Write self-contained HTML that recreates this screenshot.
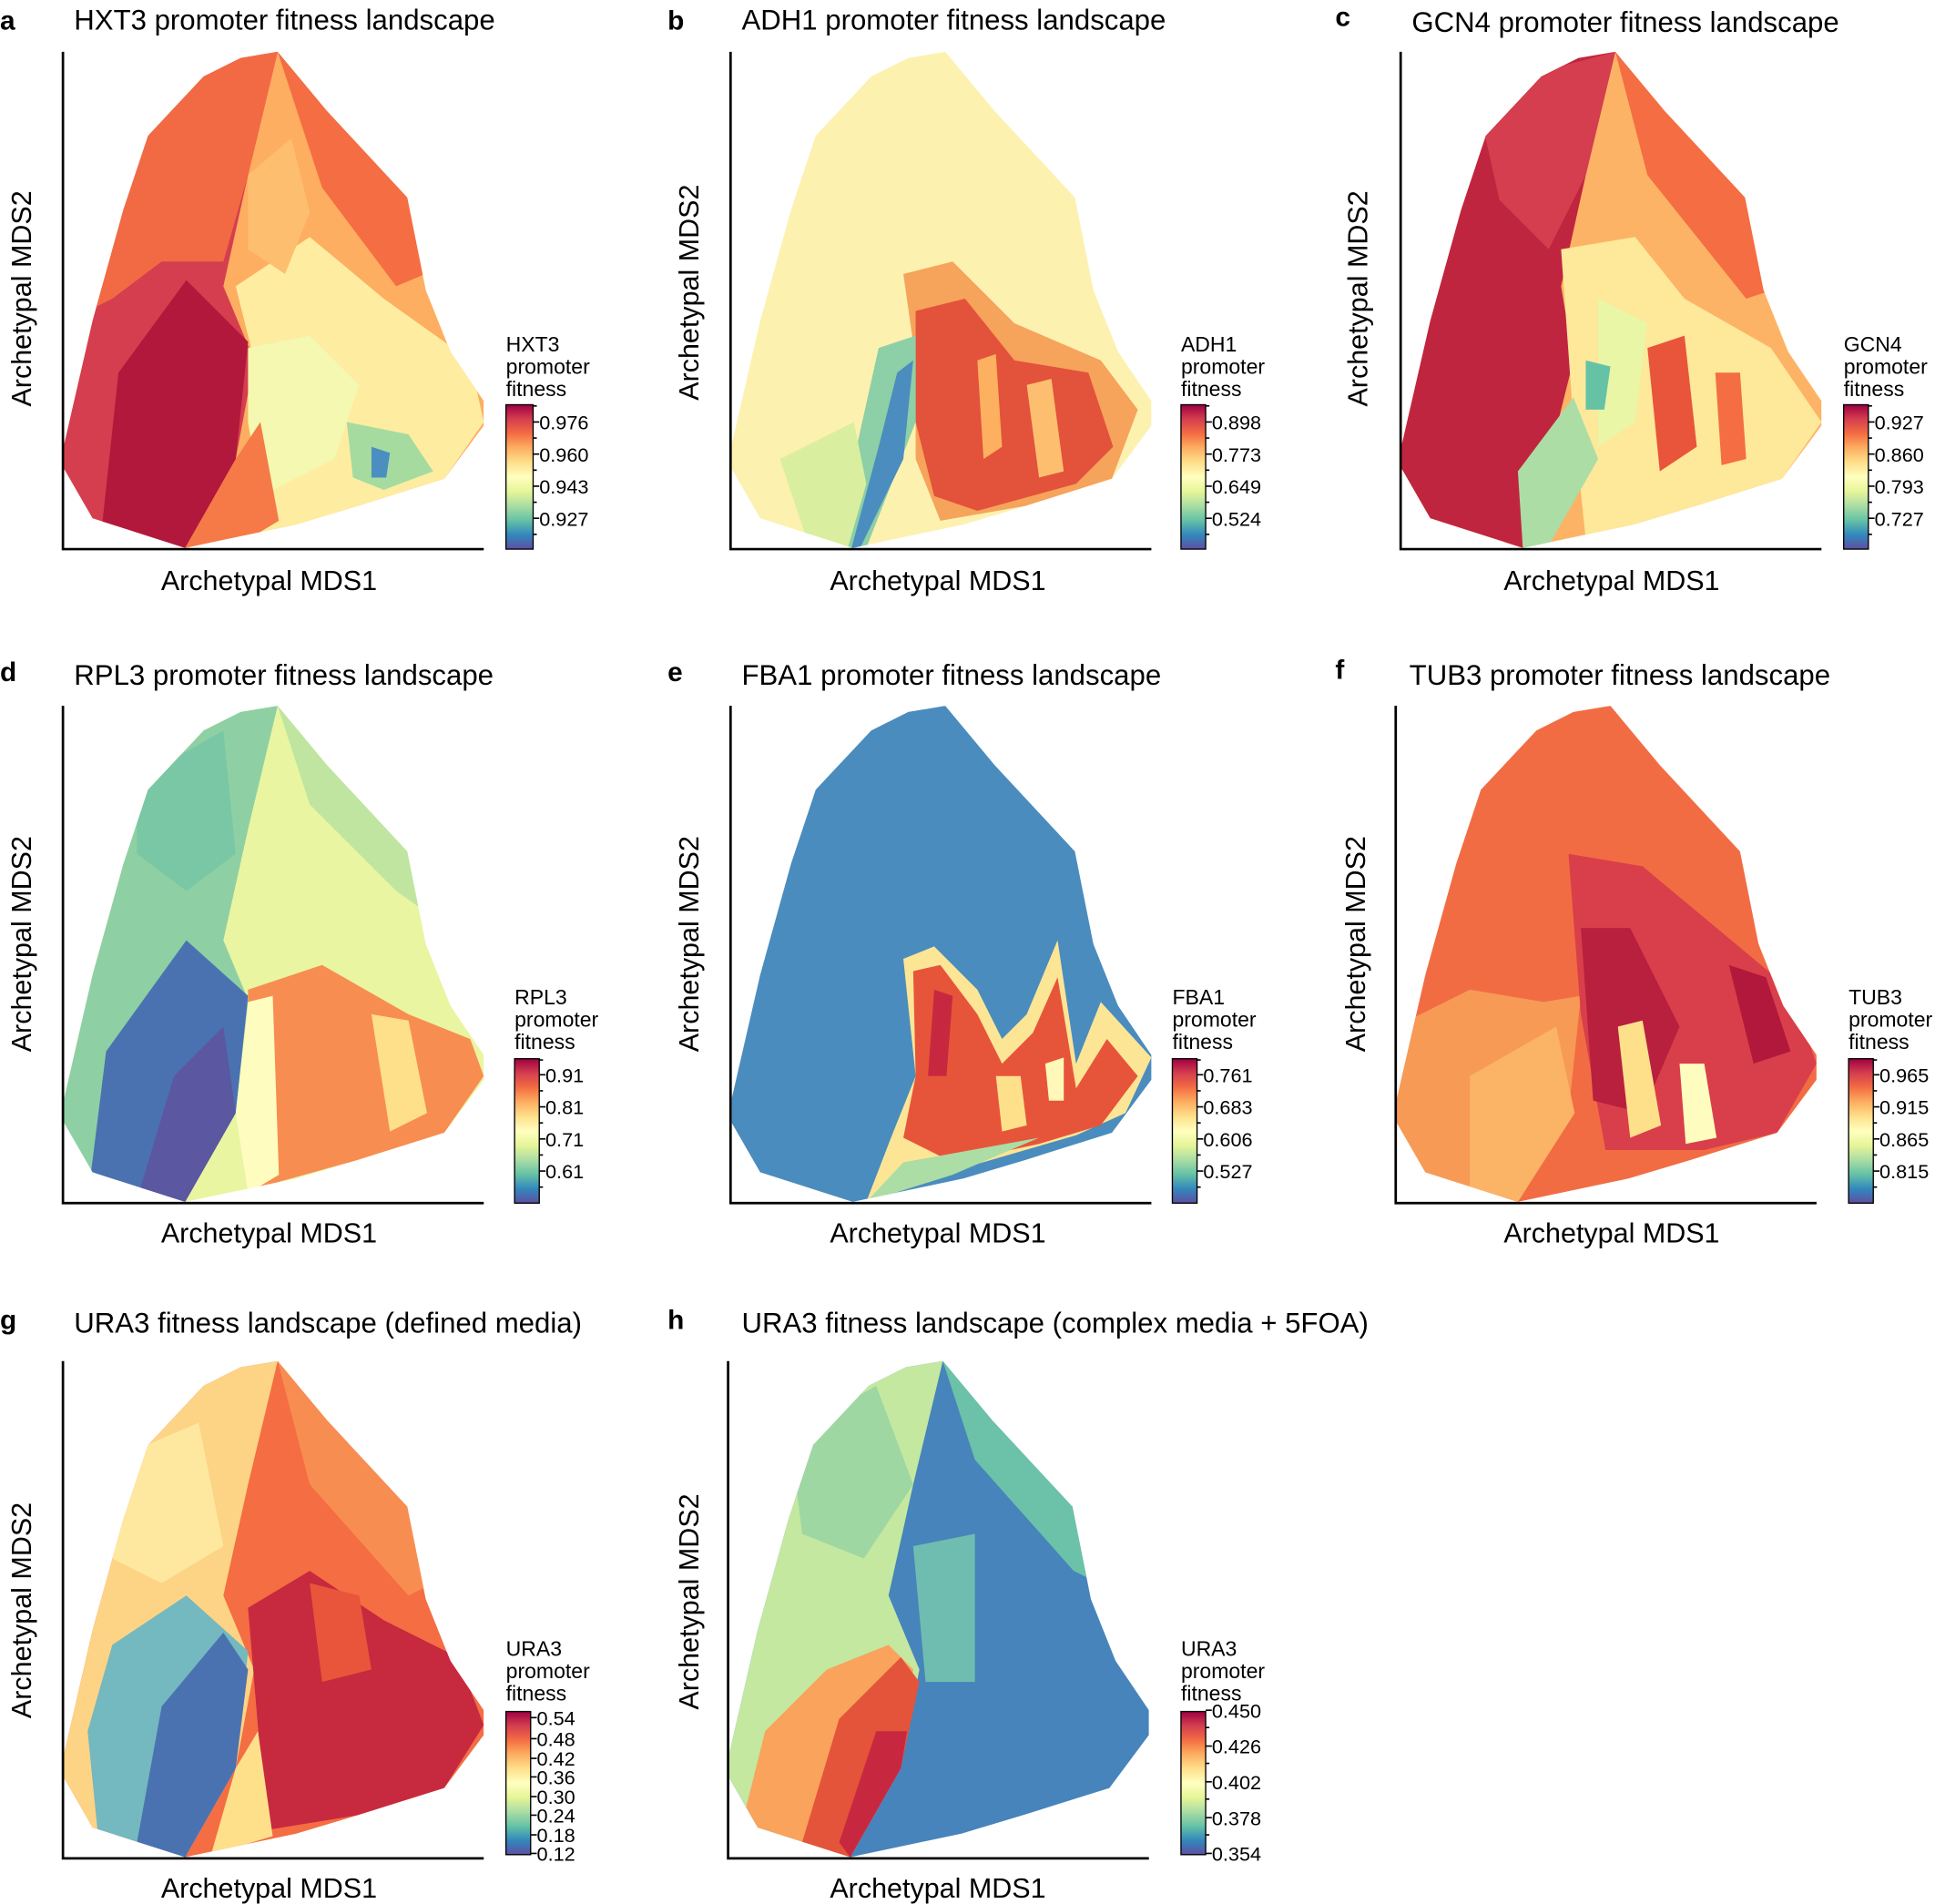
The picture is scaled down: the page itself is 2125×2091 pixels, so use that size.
<!DOCTYPE html>
<html><head><meta charset="utf-8"><style>
html,body{margin:0;padding:0;background:#fff;}
svg{display:block;}
text{font-family:"Liberation Sans",Arial,sans-serif;fill:#000;}
.t{font-size:23px}.ax{font-size:22.5px}.cb{font-size:17px}.tk{font-size:16px}.lt{font-size:22px;font-weight:bold}
</style></head><body>
<svg width="2125" height="2091" viewBox="0 0 1568 1543" preserveAspectRatio="none" xmlns="http://www.w3.org/2000/svg">
<defs>
<clipPath id="hull" clipPathUnits="userSpaceOnUse">
<polygon points="1,318 24,218 49,128 69,68 114,20 144,5 174,0 214,48 279,118 294,193 314,243 341,283 341,303 309,346 239,368 189,383 99,402 24,378 1,338"/>
</clipPath>
<linearGradient id="spec" x1="0" y1="0" x2="0" y2="1">
<stop offset="0" stop-color="#9e0142"/><stop offset="0.1" stop-color="#d53e4f"/><stop offset="0.2" stop-color="#f46d43"/><stop offset="0.3" stop-color="#fdae61"/><stop offset="0.4" stop-color="#fee08b"/><stop offset="0.5" stop-color="#ffffbf"/><stop offset="0.6" stop-color="#e6f598"/><stop offset="0.7" stop-color="#abdda4"/><stop offset="0.8" stop-color="#66c2a5"/><stop offset="0.9" stop-color="#3288bd"/><stop offset="1" stop-color="#5e4fa2"/>
</linearGradient>
<g id="axes"><path d="M0,0 V403 H341" fill="none" stroke="#000" stroke-width="2"/></g>
</defs>

<!-- ===== Panel a ===== -->
<g transform="translate(51,42)">
<g clip-path="url(#hull)">
<rect x="0" y="0" width="342" height="403" fill="#fdae61"/>
<polygon points="174,0 341,0 341,160 270,190 210,110" fill="#f46d43"/>
<polygon points="0,0 174,0 150,100 130,190 155,250 140,330 99,402 0,402" fill="#d53e4f"/>
<polygon points="0,0 174,0 150,100 130,170 80,170 40,200 0,220" fill="#f16a44"/>
<polygon points="30,400 45,260 100,185 150,235 140,330 99,402" fill="#b2183b"/>
<polygon points="140,190 200,150 260,200 330,250 341,300 309,346 239,368 150,395 160,300 155,250" fill="#feeda0"/>
<polygon points="150,240 200,230 240,270 220,330 160,360 150,300" fill="#f4f8b0"/>
<polygon points="230,300 280,310 300,340 260,355 235,345" fill="#a6dba0"/>
<polygon points="250,320 265,325 262,345 250,345" fill="#4b8fc0"/>
<polygon points="150,100 185,70 200,130 180,180 150,160" fill="#fdbf6f"/>
<polygon points="140,330 160,300 175,380 150,395 99,402" fill="#f57a48"/>
</g>
<use href="#axes"/>
</g>

<!-- ===== Panel b ===== -->
<g transform="translate(592,42)">
<g clip-path="url(#hull)">
<rect x="0" y="0" width="342" height="403" fill="#fdf1b0"/>
<polygon points="140,180 180,170 230,220 300,250 330,290 309,346 239,368 170,380 150,330 150,250" fill="#f6a35c"/>
<polygon points="150,210 190,200 230,250 290,260 310,320 280,350 200,372 165,360 150,300" fill="#e3523a"/>
<polygon points="240,270 260,265 270,340 250,345" fill="#fdbf6f"/>
<polygon points="200,250 215,245 220,320 205,330" fill="#fdb060"/>
<polygon points="120,240 150,230 150,300 110,402 90,402 100,330" fill="#8dcfa6"/>
<polygon points="135,260 148,250 140,330 105,402 98,402 120,320" fill="#4c8dc0"/>
<polygon points="40,330 100,300 110,350 95,402 60,390" fill="#d9ef9f"/>
</g>
<use href="#axes"/>
</g>

<!-- ===== Panel c ===== -->
<g transform="translate(1135,42)">
<g clip-path="url(#hull)">
<rect x="0" y="0" width="342" height="403" fill="#fdb366"/>
<polygon points="174,0 341,0 341,180 280,200 200,100" fill="#f46d43"/>
<polygon points="0,0 174,0 150,100 130,190 140,250 120,330 99,402 0,402" fill="#c0253f"/>
<polygon points="60,30 174,0 150,100 120,160 80,120" fill="#d53e4f"/>
<polygon points="130,160 190,150 230,200 300,240 341,300 309,346 239,368 150,395 140,300" fill="#fee89a"/>
<polygon points="160,200 200,220 190,300 160,320" fill="#e9f6a6"/>
<polygon points="95,340 140,280 160,330 120,400 99,402" fill="#abdda4"/>
<polygon points="150,250 170,255 165,290 150,290" fill="#66c2a5"/>
<polygon points="200,240 230,230 240,320 210,340" fill="#e8553a"/>
<polygon points="255,260 275,260 280,330 260,335" fill="#f46d43"/>
</g>
<use href="#axes"/>
</g>

<!-- ===== Panel d ===== -->
<g transform="translate(51,572)">
<g clip-path="url(#hull)">
<rect x="0" y="0" width="342" height="403" fill="#e9f5a0"/>
<polygon points="174,0 341,0 341,200 270,150 200,80" fill="#bfe5a0"/>
<polygon points="0,0 174,0 150,100 130,190 155,250 140,330 99,402 0,402" fill="#8ed0a4"/>
<polygon points="60,60 130,20 140,120 100,150 60,120" fill="#79c7a5"/>
<polygon points="20,400 35,280 100,190 150,235 140,330 99,402" fill="#4a72b0"/>
<polygon points="60,400 90,300 130,260 140,330 99,402" fill="#5b57a0"/>
<polygon points="150,230 210,210 280,250 330,270 341,300 309,346 239,368 160,390 150,300" fill="#f88d52"/>
<polygon points="250,250 280,255 295,330 265,345" fill="#fee08b"/>
<polygon points="150,240 170,235 175,380 150,395 140,330" fill="#fffcc0"/>
</g>
<use href="#axes"/>
</g>

<!-- ===== Panel e ===== -->
<g transform="translate(592,572)">
<g clip-path="url(#hull)">
<rect x="0" y="0" width="342" height="403" fill="#4a8cbe"/>
<polygon points="140,205 165,195 200,230 220,270 240,250 265,190 280,290 300,240 341,285 320,330 280,348 170,380 110,402 130,350 150,300" fill="#fde596"/>
<polygon points="148,215 170,210 200,250 220,290 245,265 265,220 280,310 305,270 330,300 300,340 250,355 180,370 140,350 150,300" fill="#e6553a"/>
<polygon points="165,230 180,235 175,300 160,300" fill="#c8283f"/>
<polygon points="215,300 235,300 240,340 220,345" fill="#fee08b"/>
<polygon points="255,290 270,285 270,320 258,320" fill="#fff8b8"/>
<polygon points="110,402 140,370 250,350 180,380" fill="#abdda4"/>
</g>
<use href="#axes"/>
</g>

<!-- ===== Panel f ===== -->
<g transform="translate(1131,572)">
<g clip-path="url(#hull)">
<rect x="0" y="0" width="342" height="403" fill="#f26c43"/>
<polygon points="0,260 60,230 120,240 150,235 140,330 99,402 0,402" fill="#f79a56"/>
<polygon points="60,300 130,260 145,330 99,402 60,402" fill="#fbb466"/>
<polygon points="140,120 200,130 260,180 320,230 341,290 309,346 250,360 170,360 150,250" fill="#d93f4a"/>
<polygon points="150,180 190,180 230,260 200,330 160,320" fill="#b9203e"/>
<polygon points="180,260 200,255 215,340 190,350" fill="#fee08b"/>
<polygon points="230,290 250,290 260,350 235,355" fill="#fffcc0"/>
<polygon points="270,210 300,220 320,280 290,290" fill="#b2183b"/>
</g>
<use href="#axes"/>
</g>

<!-- ===== Panel g ===== -->
<g transform="translate(51,1103)">
<g clip-path="url(#hull)">
<rect x="0" y="0" width="342" height="403" fill="#f46d43"/>
<polygon points="174,0 341,0 341,160 280,190 200,100" fill="#f88d52"/>
<polygon points="0,0 174,0 150,100 130,190 155,250 140,330 99,402 0,402" fill="#fdd385"/>
<polygon points="40,80 110,50 130,150 80,180 40,160" fill="#fee8a0"/>
<polygon points="20,300 40,230 100,190 150,235 140,330 99,402 30,400" fill="#74b8c0"/>
<polygon points="60,390 80,280 130,220 150,250 140,330 99,402" fill="#4a72b0"/>
<polygon points="150,200 200,170 260,210 320,240 341,295 309,346 239,368 165,380 155,260" fill="#c7293f"/>
<polygon points="200,180 240,190 250,250 210,260" fill="#e8553a"/>
<polygon points="140,330 158,300 170,385 120,400" fill="#fee08b"/>
</g>
<use href="#axes"/>
</g>

<!-- ===== Panel h ===== -->
<g transform="translate(590,1103)">
<g clip-path="url(#hull)">
<rect x="0" y="0" width="342" height="403" fill="#4684bb"/>
<polygon points="174,0 341,0 341,200 280,170 200,80" fill="#6bc2a8"/>
<polygon points="0,0 174,0 150,100 130,190 155,250 140,330 99,402 0,402" fill="#c4e8a0"/>
<polygon points="50,60 120,20 150,100 110,160 60,140" fill="#9fd7a2"/>
<polygon points="10,380 30,300 80,250 130,230 150,250 140,330 99,402" fill="#f9a35c"/>
<polygon points="60,390 90,290 140,240 155,260 140,330 99,402" fill="#e4543a"/>
<polygon points="90,390 120,300 145,300 140,330 99,402" fill="#c8283f"/>
<polygon points="150,150 200,140 200,260 160,260" fill="#6fbdb0"/>
</g>
<use href="#axes"/>
</g>

<!-- ===== Titles & letters ===== -->
<text class="lt" x="0" y="24">a</text><text class="t" x="60" y="24">HXT3 promoter fitness landscape</text>
<text class="lt" x="541" y="24">b</text><text class="t" x="601" y="24">ADH1 promoter fitness landscape</text>
<text class="lt" x="1082" y="21">c</text><text class="t" x="1144" y="26">GCN4 promoter fitness landscape</text>
<text class="lt" x="0" y="552">d</text><text class="t" x="60" y="555">RPL3 promoter fitness landscape</text>
<text class="lt" x="541" y="552">e</text><text class="t" x="601" y="555">FBA1 promoter fitness landscape</text>
<text class="lt" x="1082" y="550">f</text><text class="t" x="1142" y="555">TUB3 promoter fitness landscape</text>
<text class="lt" x="0" y="1077">g</text><text class="t" x="60" y="1080">URA3 fitness landscape (defined media)</text>
<text class="lt" x="541" y="1077">h</text><text class="t" x="601" y="1080">URA3 fitness landscape (complex media + 5FOA)</text>

<!-- axis labels -->
<g class="ax">
<text class="ax" x="218" y="478" text-anchor="middle">Archetypal MDS1</text>
<text class="ax" x="760" y="478" text-anchor="middle">Archetypal MDS1</text>
<text class="ax" x="1306" y="478" text-anchor="middle">Archetypal MDS1</text>
<text class="ax" x="218" y="1007" text-anchor="middle">Archetypal MDS1</text>
<text class="ax" x="760" y="1007" text-anchor="middle">Archetypal MDS1</text>
<text class="ax" x="1306" y="1007" text-anchor="middle">Archetypal MDS1</text>
<text class="ax" x="218" y="1538" text-anchor="middle">Archetypal MDS1</text>
<text class="ax" x="760" y="1538" text-anchor="middle">Archetypal MDS1</text>
<text class="ax" transform="translate(25,242) rotate(-90)" text-anchor="middle">Archetypal MDS2</text>
<text class="ax" transform="translate(566,237) rotate(-90)" text-anchor="middle">Archetypal MDS2</text>
<text class="ax" transform="translate(1108,242) rotate(-90)" text-anchor="middle">Archetypal MDS2</text>
<text class="ax" transform="translate(25,765) rotate(-90)" text-anchor="middle">Archetypal MDS2</text>
<text class="ax" transform="translate(566,765) rotate(-90)" text-anchor="middle">Archetypal MDS2</text>
<text class="ax" transform="translate(1106,765) rotate(-90)" text-anchor="middle">Archetypal MDS2</text>
<text class="ax" transform="translate(25,1305) rotate(-90)" text-anchor="middle">Archetypal MDS2</text>
<text class="ax" transform="translate(566,1298) rotate(-90)" text-anchor="middle">Archetypal MDS2</text>
</g>

<!-- ===== Colorbars ===== -->
<g>
<text class="cb" x="410" y="285">HXT3</text><text class="cb" x="410" y="303">promoter</text><text class="cb" x="410" y="321">fitness</text>
<rect x="410" y="328" width="22" height="117" fill="url(#spec)" stroke="#000" stroke-width="1"/>
<path d="M432,342h5M432,368h5M432,394h5M432,420h5M432,329h3M432,355h3M432,381h3M432,407h3M432,433h3" stroke="#000" stroke-width="1.2"/>
<text class="tk" x="437" y="348">0.976</text><text class="tk" x="437" y="374">0.960</text><text class="tk" x="437" y="400">0.943</text><text class="tk" x="437" y="426">0.927</text>
</g>
<g>
<text class="cb" x="957" y="285">ADH1</text><text class="cb" x="957" y="303">promoter</text><text class="cb" x="957" y="321">fitness</text>
<rect x="957" y="328" width="20" height="117" fill="url(#spec)" stroke="#000" stroke-width="1"/>
<path d="M977,342h5M977,368h5M977,394h5M977,420h5M977,329h3M977,355h3M977,381h3M977,407h3M977,433h3" stroke="#000" stroke-width="1.2"/>
<text class="tk" x="982" y="348">0.898</text><text class="tk" x="982" y="374">0.773</text><text class="tk" x="982" y="400">0.649</text><text class="tk" x="982" y="426">0.524</text>
</g>
<g>
<text class="cb" x="1494" y="285">GCN4</text><text class="cb" x="1494" y="303">promoter</text><text class="cb" x="1494" y="321">fitness</text>
<rect x="1494" y="328" width="20" height="117" fill="url(#spec)" stroke="#000" stroke-width="1"/>
<path d="M1514,342h5M1514,368h5M1514,394h5M1514,420h5M1514,329h3M1514,355h3M1514,381h3M1514,407h3M1514,433h3" stroke="#000" stroke-width="1.2"/>
<text class="tk" x="1519" y="348">0.927</text><text class="tk" x="1519" y="374">0.860</text><text class="tk" x="1519" y="400">0.793</text><text class="tk" x="1519" y="426">0.727</text>
</g>
<g>
<text class="cb" x="417" y="814">RPL3</text><text class="cb" x="417" y="832">promoter</text><text class="cb" x="417" y="850">fitness</text>
<rect x="417" y="858" width="20" height="117" fill="url(#spec)" stroke="#000" stroke-width="1"/>
<path d="M437,871h5M437,897h5M437,923h5M437,949h5M437,859h3M437,884h3M437,910h3M437,936h3M437,962h3" stroke="#000" stroke-width="1.2"/>
<text class="tk" x="442" y="877">0.91</text><text class="tk" x="442" y="903">0.81</text><text class="tk" x="442" y="929">0.71</text><text class="tk" x="442" y="955">0.61</text>
</g>
<g>
<text class="cb" x="950" y="814">FBA1</text><text class="cb" x="950" y="832">promoter</text><text class="cb" x="950" y="850">fitness</text>
<rect x="950" y="858" width="20" height="117" fill="url(#spec)" stroke="#000" stroke-width="1"/>
<path d="M970,871h5M970,897h5M970,923h5M970,949h5M970,859h3M970,884h3M970,910h3M970,936h3M970,962h3" stroke="#000" stroke-width="1.2"/>
<text class="tk" x="975" y="877">0.761</text><text class="tk" x="975" y="903">0.683</text><text class="tk" x="975" y="929">0.606</text><text class="tk" x="975" y="955">0.527</text>
</g>
<g>
<text class="cb" x="1498" y="814">TUB3</text><text class="cb" x="1498" y="832">promoter</text><text class="cb" x="1498" y="850">fitness</text>
<rect x="1498" y="858" width="20" height="117" fill="url(#spec)" stroke="#000" stroke-width="1"/>
<path d="M1518,871h5M1518,897h5M1518,923h5M1518,949h5M1518,859h3M1518,884h3M1518,910h3M1518,936h3M1518,962h3" stroke="#000" stroke-width="1.2"/>
<text class="tk" x="1523" y="877">0.965</text><text class="tk" x="1523" y="903">0.915</text><text class="tk" x="1523" y="929">0.865</text><text class="tk" x="1523" y="955">0.815</text>
</g>
<g>
<text class="cb" x="410" y="1342">URA3</text><text class="cb" x="410" y="1360">promoter</text><text class="cb" x="410" y="1378">fitness</text>
<rect x="410" y="1387" width="20" height="116" fill="url(#spec)" stroke="#000" stroke-width="1"/>
<path d="M430,1392h5M430,1409h5M430,1425h5M430,1440h5M430,1456h5M430,1471h5M430,1487h5M430,1502h5" stroke="#000" stroke-width="1.2"/>
<text class="tk" x="435" y="1398">0.54</text><text class="tk" x="435" y="1415">0.48</text><text class="tk" x="435" y="1431">0.42</text><text class="tk" x="435" y="1446">0.36</text><text class="tk" x="435" y="1462">0.30</text><text class="tk" x="435" y="1477">0.24</text><text class="tk" x="435" y="1493">0.18</text><text class="tk" x="435" y="1508">0.12</text>
</g>
<g>
<text class="cb" x="957" y="1342">URA3</text><text class="cb" x="957" y="1360">promoter</text><text class="cb" x="957" y="1378">fitness</text>
<rect x="957" y="1387" width="20" height="116" fill="url(#spec)" stroke="#000" stroke-width="1"/>
<path d="M977,1386h5M977,1415h5M977,1444h5M977,1473h5M977,1502h5M977,1400h3M977,1429h3M977,1458h3M977,1487h3" stroke="#000" stroke-width="1.2"/>
<text class="tk" x="982" y="1392">0.450</text><text class="tk" x="982" y="1421">0.426</text><text class="tk" x="982" y="1450">0.402</text><text class="tk" x="982" y="1479">0.378</text><text class="tk" x="982" y="1508">0.354</text>
</g>
</svg>
</body></html>
